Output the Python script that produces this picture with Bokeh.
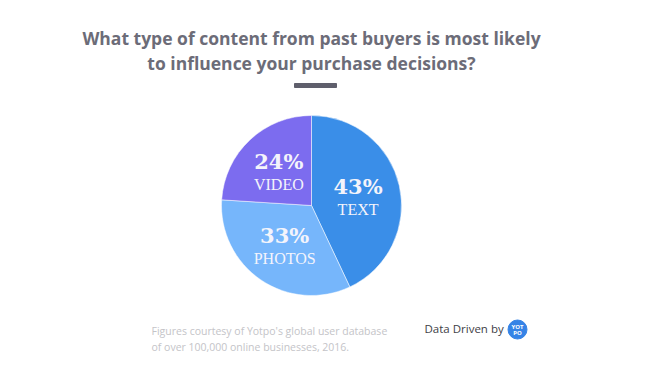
import numpy as np
from bokeh.plotting import figure
from bokeh.models import Range1d, ColumnDataSource, Label
from bokeh.core.properties import value
from bokeh.embed import file_html
from bokeh.resources import INLINE

categories = ["TEXT", "PHOTOS", "VIDEO"]
shares = [43, 33, 24]
colors = ["#3a8ee8", "#76b6fb", "#7c6cef"]

W, H = 632, 367
p = figure(width=W, height=H, output_backend="svg", toolbar_location=None,
           x_range=Range1d(0, W), y_range=Range1d(0, H), min_border=0)
p.axis.visible = False
p.grid.visible = False
p.outline_line_color = None
p.background_fill_color = "white"
p.border_fill_color = "white"

def Y(ys):  # screen y -> data y
    return H - ys
def X(xs):
    return xs

cx, cy, R = X(311), Y(205), 90
vals = np.array(shares, dtype=float)
frac = vals / vals.sum()
start_deg = 90 - np.concatenate([[0], np.cumsum(frac)[:-1]]) * 360
end_deg = start_deg - frac * 360
mid = np.radians((start_deg + end_deg) / 2)

src = ColumnDataSource(dict(start=np.radians(end_deg), end=np.radians(start_deg), color=colors,
                            lx=cx + 0.53 * R * np.cos(mid), ly=cy + 0.53 * R * np.sin(mid),
                            pct=[f"{v}%" for v in shares], name=categories))
p.wedge(x=cx, y=cy, radius=R, start_angle="start", end_angle="end", color="color",
        line_color="white", line_width=0.5, source=src)
p.text(x="lx", y="ly", text="pct", source=src, text_align="center", text_baseline="middle",
       y_offset=-9, text_font=value("DejaVu Serif"), text_font_style="bold",
       text_font_size="21px", text_color="#f4f4fb")
p.text(x="lx", y="ly", text="name", source=src, text_align="center", text_baseline="middle",
       y_offset=14, text_font=value("Liberation Serif"), text_font_size="16px", text_color="#f4f4fb")

title_lines = ["What type of content from past buyers is most likely",
               "to influence your purchase decisions?"]
for i, t in enumerate(title_lines):
    p.add_layout(Label(x=X(311), y=Y(37 + 25 * i), text=t, text_align="center", text_baseline="middle",
                       text_font="Open Sans", text_font_style="bold", text_font_size="17.5px",
                       text_color="#6c6c78"))
p.quad(left=X(294), right=X(336), top=Y(83), bottom=Y(87), color="#5f5f6c")

notes = ["Figures courtesy of Yotpo's global user database", "of over 100,000 online businesses, 2016."]
for i, t in enumerate(notes):
    p.add_layout(Label(x=X(151), y=Y(330 + 16 * i), text=t, text_align="left", text_baseline="middle",
                       text_font="Open Sans", text_font_size="10.5px", text_color="#c4c4c8"))
p.add_layout(Label(x=X(424), y=Y(328), text="Data Driven by", text_align="left", text_baseline="middle",
                   text_font="Open Sans", text_font_size="11.5px", text_color="#3e3e46"))
p.scatter(x=[X(517)], y=[Y(329)], size=19, color="#3583e6")
p.add_layout(Label(x=X(517), y=Y(326), text="YOT", text_align="center", text_baseline="middle",
                   text_font="Open Sans", text_font_style="bold", text_font_size="6px", text_color="white"))
p.add_layout(Label(x=X(517), y=Y(332), text="PO", text_align="center", text_baseline="middle",
                   text_font="Open Sans", text_font_style="bold", text_font_size="6px", text_color="white"))

open("out.html", "w").write(file_html(p, INLINE))
